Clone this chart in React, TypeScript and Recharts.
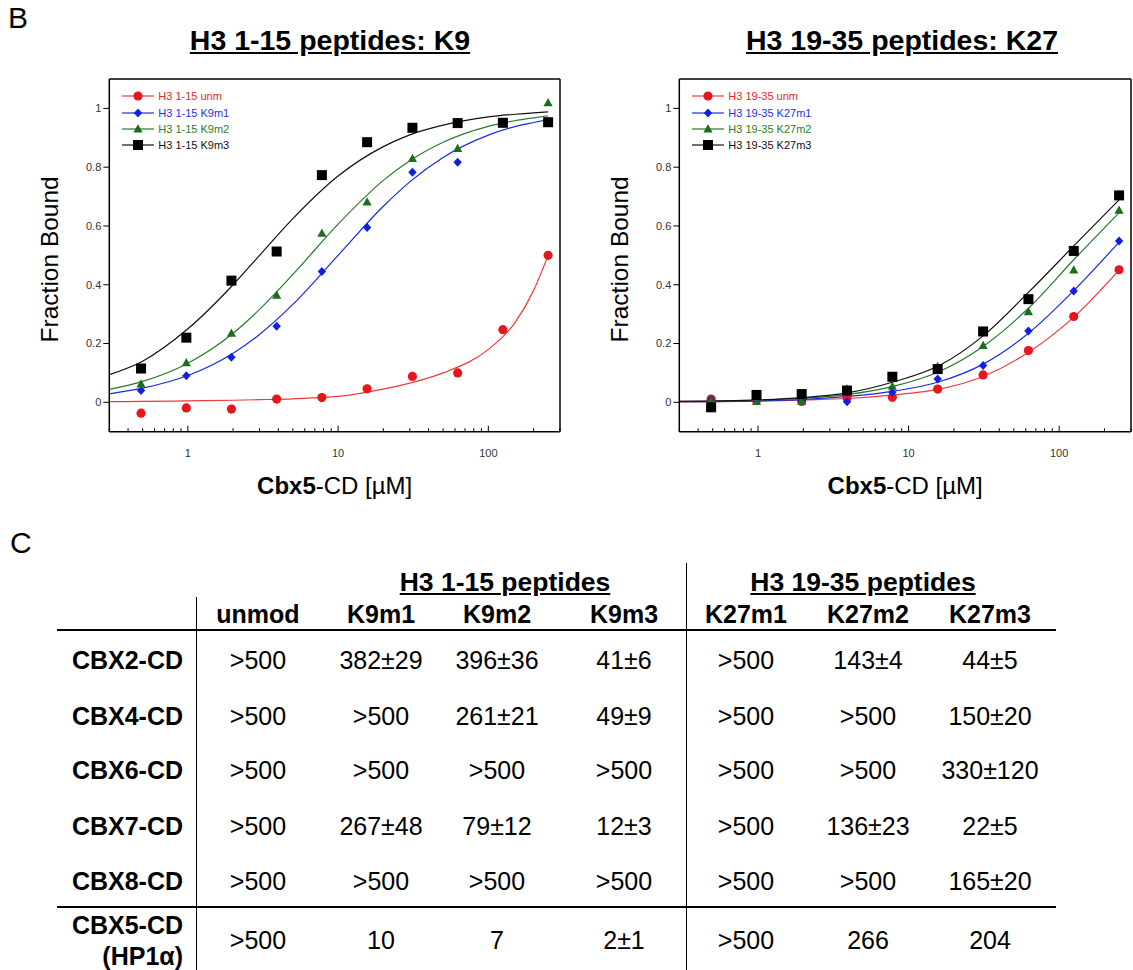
import React from 'react'
import { ComposedChart, Line, Scatter, XAxis, YAxis, ReferenceLine, Legend } from 'recharts'

// peptide concentrations (two-fold dilution from 250 µM)
const CONC = [0.488, 0.977, 1.95, 3.9, 7.8, 15.6, 31.25, 62.5, 125, 250]

// H3 1-15 measured fraction bound
const k9Unm = [-0.037, -0.019, -0.023, 0.011, 0.016, 0.046, 0.088, 0.1, 0.247, 0.5]
const k9M1 = [0.04, 0.09, 0.153, 0.259, 0.445, 0.595, 0.783, 0.817, 0.95, 0.955]
const k9M2 = [0.062, 0.134, 0.235, 0.364, 0.575, 0.681, 0.829, 0.863, 0.953, 1.019]
const k9M3 = [0.115, 0.22, 0.414, 0.513, 0.773, 0.885, 0.934, 0.95, 0.951, 0.953]

// H3 1-15 fitted curves
const K9_FIT_X = [0.3, 0.5, 1, 2, 3, 5, 10, 20, 30, 50, 100, 150, 200, 250]
const k9FitUnm = [0.002, 0.003, 0.005, 0.007, 0.009, 0.012, 0.02, 0.045, 0.065, 0.1, 0.18, 0.27, 0.38, 0.5]
const k9FitM1 = [0.029, 0.048, 0.091, 0.167, 0.231, 0.333, 0.5, 0.667, 0.75, 0.833, 0.909, 0.938, 0.952, 0.962]
const k9FitM2 = [0.044, 0.071, 0.133, 0.235, 0.316, 0.435, 0.606, 0.755, 0.822, 0.885, 0.939, 0.958, 0.968, 0.975]
const k9FitM3 = [0.094, 0.14, 0.25, 0.4, 0.5, 0.625, 0.77, 0.87, 0.91, 0.943, 0.971, 0.98, 0.985, 0.988]

// H3 19-35 measured fraction bound
const k27Unm = [0.011, 0.006, 0.003, 0.015, 0.017, 0.045, 0.093, 0.176, 0.292, 0.451]
const k27M1 = [0.009, 0.006, 0.006, 0.002, 0.034, 0.079, 0.125, 0.243, 0.379, 0.549]
const k27M2 = [0.006, 0.002, 0.003, 0.045, 0.054, 0.122, 0.193, 0.308, 0.45, 0.653]
const k27M3 = [-0.017, 0.025, 0.028, 0.04, 0.087, 0.113, 0.241, 0.351, 0.515, 0.704]

// H3 19-35 fitted curves
const K27_FIT_X = [0.3, 1, 2, 4, 8, 16, 31.25, 62.5, 125, 250]
const k27FitUnm = [0.001, 0.004, 0.008, 0.013, 0.025, 0.045, 0.088, 0.17, 0.29, 0.45]
const k27FitM1 = [0.002, 0.005, 0.01, 0.02, 0.038, 0.07, 0.13, 0.235, 0.38, 0.545]
const k27FitM2 = [0.003, 0.007, 0.014, 0.027, 0.055, 0.105, 0.19, 0.32, 0.485, 0.645]
const k27FitM3 = [0.003, 0.008, 0.016, 0.033, 0.07, 0.125, 0.226, 0.374, 0.532, 0.689]

const X_TICKS = [0.3, 0.4, 0.5, 0.6, 0.7, 0.8, 0.9, 1, 2, 3, 4, 5, 6, 7, 8, 9, 10, 20, 30, 40, 50, 60, 70, 80, 90, 100, 200, 300]
const X_LABELED = [1, 10, 100]
const Y_TICKS = [0, 0.2, 0.4, 0.6, 0.8, 1]

// table
const TABLE_GROUPS = ['H3 1-15 peptides', 'H3 19-35 peptides']
const TABLE_COLUMNS = ['unmod', 'K9m1', 'K9m2', 'K9m3', 'K27m1', 'K27m2', 'K27m3']
const TABLE_ROWS = ['CBX2-CD', 'CBX4-CD', 'CBX6-CD', 'CBX7-CD', 'CBX8-CD']
const TABLE_VALUES = [
  ['>500', '382±29', '396±36', '41±6', '>500', '143±4', '44±5'],
  ['>500', '>500', '261±21', '49±9', '>500', '>500', '150±20'],
  ['>500', '>500', '>500', '>500', '>500', '>500', '330±120'],
  ['>500', '267±48', '79±12', '12±3', '>500', '136±23', '22±5'],
  ['>500', '>500', '>500', '>500', '>500', '>500', '165±20'],
]
const CBX5_VALUES = ['>500', '10', '7', '2±1', '>500', '266', '204']

const RED = '#e5161c'
const BLUE = '#1020e0'
const GREEN = '#1b6e1b'
const BLACK = '#000000'
const FONT = 'Liberation Sans, Arial, Helvetica, sans-serif'

type Series = { name: string; color: string; text: string; line: string; shape: string }

const SHAPES = ['circle', 'diamond', 'triangle', 'square']

function Marker({ cx, cy, kind, color }: { cx: number; cy: number; kind: string; color: string }) {
  if (cx == null || cy == null) return null
  if (kind === 'circle') return <circle cx={cx} cy={cy} r={4.6} fill={color} />
  if (kind === 'diamond')
    return <path d={`M${cx},${cy - 4.5}L${cx + 4.2},${cy}L${cx},${cy + 4.5}L${cx - 4.2},${cy}Z`} fill={color} />
  if (kind === 'triangle')
    return <path d={`M${cx},${cy - 4.8}L${cx + 4.6},${cy + 3.4}L${cx - 4.6},${cy + 3.4}Z`} fill={color} />
  return <rect x={cx - 5} y={cy - 5} width={10} height={10} fill={color} />
}

function LogTick(props: any) {
  const { x, y, payload } = props
  const major = X_LABELED.includes(payload.value)
  return (
    <g>
      <line x1={x} x2={x} y1={y} y2={y - (major ? 6 : 3.5)} stroke="#000" strokeWidth={1} />
      {major && (
        <text x={x} y={y + 25} textAnchor="middle" fontSize={11} fill="#333" fontFamily={FONT}>
          {payload.value}
        </text>
      )}
    </g>
  )
}

function BindingChart({
  width,
  marginLeft,
  marginRight,
  fitX,
  fits,
  points,
  series,
}: {
  width: number
  marginLeft: number
  marginRight: number
  fitX: number[]
  fits: number[][]
  points: number[][]
  series: Series[]
}) {
  const rows = fitX.map((x, i) => ({ x, s0: fits[0][i], s1: fits[1][i], s2: fits[2][i], s3: fits[3][i] }))
  return (
    <ComposedChart
      width={width}
      height={520}
      data={rows}
      margin={{ top: 79, left: marginLeft, right: marginRight, bottom: 58.3 }}
    >
      <XAxis
        dataKey="x"
        type="number"
        scale="log"
        domain={[0.3, 300]}
        allowDataOverflow
        ticks={X_TICKS}
        tick={<LogTick />}
        tickLine={false}
        tickSize={0}
        tickMargin={0}
        interval={0}
        height={30}
        axisLine={{ stroke: '#000', strokeWidth: 1.5 }}
        label={{
          content: ({ viewBox }: any) => (
            <text
              x={viewBox.x + viewBox.width / 2}
              y={viewBox.y + 62}
              textAnchor="middle"
              fontSize={24}
              fontFamily={FONT}
              fill="#000"
            >
              <tspan fontWeight="bold">Cbx5</tspan>
              <tspan>-CD [µM]</tspan>
            </text>
          ),
        }}
      />
      <YAxis
        type="number"
        domain={[-0.1, 1.1]}
        allowDataOverflow
        ticks={Y_TICKS}
        width={40}
        tickSize={6}
        tickMargin={2}
        tick={{ fontSize: 11, fill: '#333', fontFamily: FONT }}
        tickLine={{ stroke: '#000', strokeWidth: 1 }}
        axisLine={{ stroke: '#000', strokeWidth: 1.5 }}
        tickFormatter={(v: number) => String(v)}
        label={{
          content: ({ viewBox }: any) => {
            const cx = viewBox.x - 20
            const cy = viewBox.y + viewBox.height / 2 + 4
            return (
              <text
                x={cx}
                y={cy}
                transform={`rotate(-90, ${cx}, ${cy})`}
                textAnchor="middle"
                dominantBaseline="central"
                fontSize={24.5}
                fontFamily={FONT}
                fill="#000"
              >
                Fraction Bound
              </text>
            )
          },
        }}
      />
      <ReferenceLine y={1.1} stroke="#000" strokeWidth={1.5} />
      <ReferenceLine x={300} stroke="#000" strokeWidth={1.5} />
      {series.map((s, i) => (
        <Line
          key={`fit-${i}`}
          dataKey={`s${i}`}
          type="monotone"
          stroke={s.line}
          strokeWidth={1.2}
          dot={false}
          activeDot={false}
          isAnimationActive={false}
          legendType="none"
        />
      ))}
      {series.map((s, i) => (
        <Scatter
          key={`pts-${i}`}
          data={CONC.map((x, j) => ({ x, y: points[i][j] }))}
          dataKey="y"
          isAnimationActive={false}
          shape={(p: any) => <Marker cx={p.cx} cy={p.cy} kind={s.shape} color={s.color} />}
        />
      ))}
      <Legend
        layout="vertical"
        verticalAlign="middle"
        align="center"
        wrapperStyle={{ left: marginLeft + 40 + 13, top: 88, width: 200, height: 70 }}
        content={() => (
          <div style={{ fontFamily: FONT, fontSize: 11 }}>
            {series.map((s, i) => (
              <div key={i} style={{ display: 'flex', alignItems: 'center', height: 16.4 }}>
                <svg width={34} height={12}>
                  <line x1={0} x2={32} y1={6} y2={6} stroke={s.line} strokeWidth={1.2} />
                  <Marker cx={16} cy={6} kind={s.shape} color={s.color} />
                </svg>
                <span style={{ color: s.text, marginLeft: 2 }}>{s.name}</span>
              </div>
            ))}
          </div>
        )}
      />
    </ComposedChart>
  )
}

const colors = [
  { color: RED, text: '#e8262b', line: '#ee3a3a' },
  { color: BLUE, text: '#2233ee', line: '#1a2ae6' },
  { color: GREEN, text: '#2b7d2b', line: '#2a7a2a' },
  { color: BLACK, text: '#111', line: '#111' },
]

const K9_NAMES = ['H3 1-15 unm', 'H3 1-15 K9m1', 'H3 1-15 K9m2', 'H3 1-15 K9m3']
const K27_NAMES = ['H3 19-35 unm', 'H3 19-35 K27m1', 'H3 19-35 K27m2', 'H3 19-35 K27m3']

const k9Series: Series[] = K9_NAMES.map((name, i) => ({ name, shape: SHAPES[i], ...colors[i] }))
const k27Series: Series[] = K27_NAMES.map((name, i) => ({ name, shape: SHAPES[i], ...colors[i] }))

const COL_X = [258, 381, 497, 624, 746, 868, 990]
const ROW_Y = [660, 716, 770, 826, 881]

function Cell({ x, y, children, bold, align = 'center', size = 25 }: any) {
  const w = 260
  const left = align === 'right' ? x - w : x - w / 2
  return (
    <div
      style={{
        position: 'absolute',
        left,
        top: y - 15,
        width: w,
        height: 30,
        lineHeight: '30px',
        textAlign: align,
        fontSize: size,
        fontWeight: bold ? 'bold' : 'normal',
        whiteSpace: 'nowrap',
      }}
    >
      {children}
    </div>
  )
}

function KdTable() {
  const hLine = (y: number) => (
    <div style={{ position: 'absolute', left: 57, top: y, width: 999, height: 1.5, background: '#000' }} />
  )
  return (
    <>
      <div style={{ position: 'absolute', left: 196, top: 597, width: 1.2, height: 373, background: '#000' }} />
      <div style={{ position: 'absolute', left: 686, top: 563, width: 1.2, height: 407, background: '#000' }} />
      {hLine(629)}
      {hLine(906)}
      <Cell x={505} y={582} bold size={26.5}>
        <span style={{ textDecoration: 'underline' }}>{TABLE_GROUPS[0]}</span>
      </Cell>
      <Cell x={863} y={582} bold size={26.5}>
        <span style={{ textDecoration: 'underline' }}>{TABLE_GROUPS[1]}</span>
      </Cell>
      {TABLE_COLUMNS.map((c, i) => (
        <Cell key={c} x={COL_X[i]} y={614} bold>
          {c}
        </Cell>
      ))}
      {TABLE_ROWS.map((r, ri) => (
        <React.Fragment key={r}>
          <Cell x={183} y={ROW_Y[ri]} bold align="right">
            {r}
          </Cell>
          {TABLE_VALUES[ri].map((v, ci) => (
            <Cell key={ci} x={COL_X[ci]} y={ROW_Y[ri]}>
              {v}
            </Cell>
          ))}
        </React.Fragment>
      ))}
      <Cell x={183} y={925} bold align="right">
        CBX5-CD
      </Cell>
      <Cell x={183} y={956} bold align="right">
        (HP1α)
      </Cell>
      {CBX5_VALUES.map((v, ci) => (
        <Cell key={ci} x={COL_X[ci]} y={940}>
          {v}
        </Cell>
      ))}
    </>
  )
}

export default function App() {
  return (
    <div
      style={{
        position: 'absolute',
        left: 0,
        top: 0,
        width: 1133,
        height: 970,
        background: '#fff',
        fontFamily: FONT,
        color: '#000',
        overflow: 'hidden',
      }}
    >
      <div style={{ position: 'absolute', left: 8, top: 0, fontSize: 30, lineHeight: '36px' }}>B</div>
      <div style={{ position: 'absolute', left: 10, top: 525, fontSize: 30, lineHeight: '36px' }}>C</div>
      <div
        style={{
          position: 'absolute',
          left: 330 - 200,
          width: 400,
          top: 23,
          textAlign: 'center',
          fontSize: 28.5,
          fontWeight: 'bold',
          textDecoration: 'underline',
          lineHeight: '34px',
        }}
      >
        H3 1-15 peptides: K9
      </div>
      <div
        style={{
          position: 'absolute',
          left: 902 - 200,
          width: 400,
          top: 23,
          textAlign: 'center',
          fontSize: 28.5,
          fontWeight: 'bold',
          textDecoration: 'underline',
          lineHeight: '34px',
        }}
      >
        H3 19-35 peptides: K27
      </div>
      <div style={{ position: 'absolute', left: 0, top: 0 }}>
        <BindingChart
          width={600}
          marginLeft={69.3}
          marginRight={40}
          fitX={K9_FIT_X}
          fits={[k9FitUnm, k9FitM1, k9FitM2, k9FitM3]}
          points={[k9Unm, k9M1, k9M2, k9M3]}
          series={k9Series}
        />
      </div>
      <div style={{ position: 'absolute', left: 570, top: 0 }}>
        <BindingChart
          width={563}
          marginLeft={69.3}
          marginRight={2}
          fitX={K27_FIT_X}
          fits={[k27FitUnm, k27FitM1, k27FitM2, k27FitM3]}
          points={[k27Unm, k27M1, k27M2, k27M3]}
          series={k27Series}
        />
      </div>
      <KdTable />
    </div>
  )
}
